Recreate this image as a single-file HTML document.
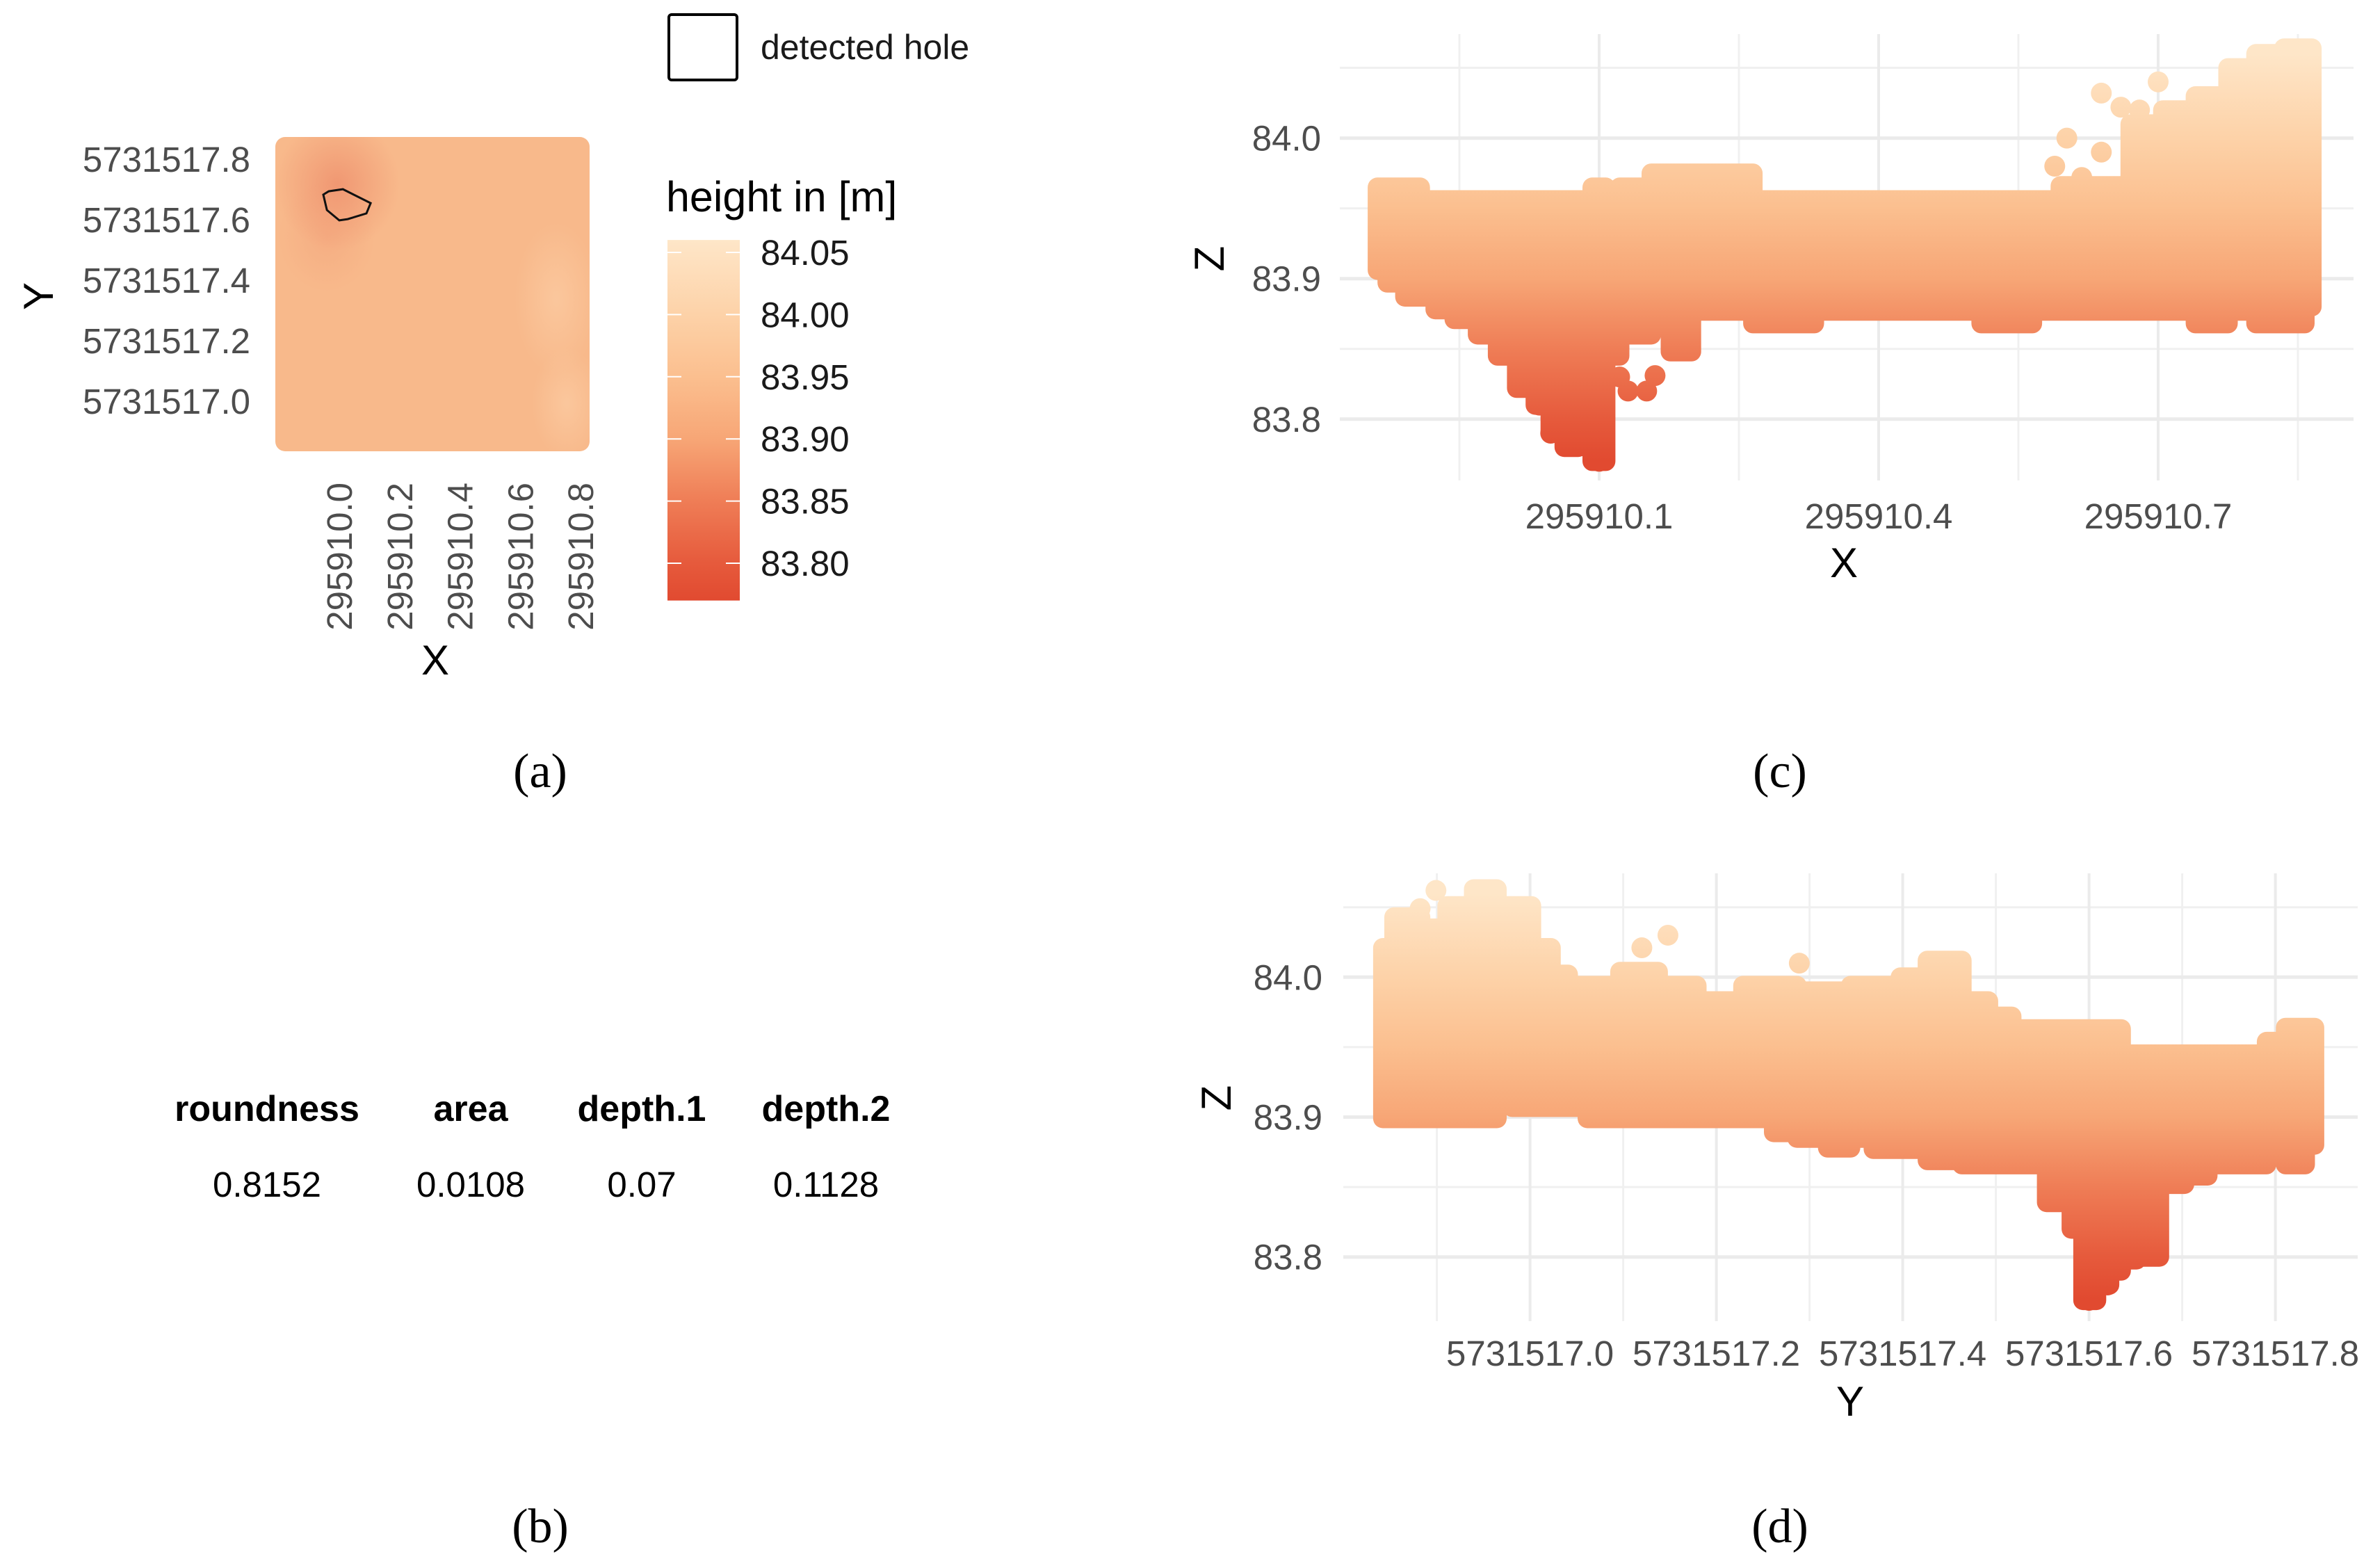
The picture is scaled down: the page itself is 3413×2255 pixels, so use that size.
<!DOCTYPE html>
<html><head><meta charset="utf-8">
<style>
html,body{margin:0;padding:0;background:#fff;}
svg{display:block;}
.tk{font-family:"Liberation Sans",Arial,sans-serif;font-size:51px;fill:#4d4d4d;}
.ti{font-family:"Liberation Sans",Arial,sans-serif;font-size:60px;fill:#000;}
.cap{font-family:"Liberation Serif",serif;font-size:70px;fill:#000;}
.th{font-family:"Liberation Sans",Arial,sans-serif;font-size:52px;font-weight:bold;fill:#000;}
.tv{font-family:"Liberation Sans",Arial,sans-serif;font-size:51px;fill:#000;}
</style></head>
<body>
<svg id="fig" width="3413" height="2255" viewBox="0 0 3413 2255" xmlns="http://www.w3.org/2000/svg">
<defs>
<radialGradient id="blob1" cx="0.5" cy="0.5" r="0.5"><stop offset="0" stop-color="#ee8f6c" stop-opacity="0.8"/><stop offset="1" stop-color="#ee8f6c" stop-opacity="0"/></radialGradient>
<radialGradient id="blob2" cx="0.5" cy="0.5" r="0.5"><stop offset="0" stop-color="#fcd0a8" stop-opacity="0.6"/><stop offset="1" stop-color="#fcd0a8" stop-opacity="0"/></radialGradient>
<clipPath id="tileClip"><rect x="396" y="197" width="452" height="452" rx="14"/></clipPath>
</defs>
<g id="panelA"></g>
<g id="panelC"></g>
<g id="panelD"></g>
<g>
 <text class="th" x="384" y="1612" text-anchor="middle">roundness</text>
 <text class="th" x="677" y="1612" text-anchor="middle">area</text>
 <text class="th" x="923" y="1612" text-anchor="middle">depth.1</text>
 <text class="th" x="1188" y="1612" text-anchor="middle">depth.2</text>
 <text class="tv" x="384" y="1721" text-anchor="middle">0.8152</text>
 <text class="tv" x="677" y="1721" text-anchor="middle">0.0108</text>
 <text class="tv" x="923" y="1721" text-anchor="middle">0.07</text>
 <text class="tv" x="1188" y="1721" text-anchor="middle">0.1128</text>
</g>
<text class="cap" x="777" y="1132" text-anchor="middle">(a)</text>
<text class="cap" x="777" y="2218" text-anchor="middle">(b)</text>
<text class="cap" x="2560" y="1132" text-anchor="middle">(c)</text>
<text class="cap" x="2560" y="2218" text-anchor="middle">(d)</text>
</svg>
<script>
// ---------- data ----------
// panel (a)
const aXTicks = [295910.0, 295910.2, 295910.4, 295910.6, 295910.8];
const aXTickLabels = ["295910.0","295910.2","295910.4","295910.6","295910.8"];
const aYTicks = [5731517.8, 5731517.6, 5731517.4, 5731517.2, 5731517.0];
const aYTickLabels = ["5731517.8","5731517.6","5731517.4","5731517.2","5731517.0"];
const holeX = [295909.947, 295909.965, 295910.012, 295910.104, 295910.090, 295910.028, 295910.0, 295909.959];
const holeY = [5731517.683, 5731517.694, 5731517.701, 5731517.655, 5731517.621, 5731517.602, 5731517.598, 5731517.632];
const legendTicks = [84.05, 84.00, 83.95, 83.90, 83.85, 83.80];
const legendTickLabels = ["84.05","84.00","83.95","83.90","83.85","83.80"];
// panel (c): X vs Z envelope columns
const cX = [295909.862,295909.883,295909.90,295909.916,295909.932,295909.957,295909.982,295910.0,295910.023,295910.040,295910.055,295910.07,295910.085,295910.10,295910.114,295910.13,295910.147,295910.165,295910.188,295910.21,295910.25,295910.28,295910.312,295910.35,295910.40,295910.45,295910.50,295910.52,295910.55,295910.58,295910.61,295910.65,295910.69,295910.72,295910.76,295910.79,295910.82,295910.85,295910.865];
const cTop = [83.965,83.965,83.965,83.956,83.956,83.956,83.956,83.956,83.956,83.956,83.956,83.956,83.956,83.965,83.956,83.965,83.965,83.975,83.975,83.975,83.975,83.956,83.956,83.956,83.956,83.956,83.956,83.956,83.956,83.956,83.966,83.966,84.01,84.02,84.03,84.05,84.06,84.064,84.064];
const cBot = [83.906,83.897,83.887,83.887,83.878,83.871,83.860,83.845,83.822,83.81,83.79,83.78,83.80,83.77,83.845,83.86,83.86,83.868,83.848,83.877,83.877,83.868,83.868,83.877,83.877,83.877,83.877,83.868,83.868,83.877,83.877,83.877,83.877,83.877,83.868,83.877,83.868,83.868,83.88];
const cPtX = [295910.589,295910.602,295910.618,295910.639,295910.639,295910.66,295910.68,295910.70,295910.709,295910.122,295910.131,295910.151,295910.16,295910.048,295910.069,295910.10,295910.036,295909.94];
const cPtZ = [83.98,84.0,83.972,84.032,83.99,84.022,84.02,84.04,84.012,83.83,83.82,83.82,83.831,83.79,83.782,83.77,83.81,83.878];
const cXTicks = [295910.1, 295910.4, 295910.7];
const cXTickLabels = ["295910.1","295910.4","295910.7"];
const cXMinor = [295909.95, 295910.25, 295910.55, 295910.85];
const cZTicks = [84.0, 83.9, 83.8];
const cZTickLabels = ["84.0","83.9","83.8"];
const cZMinor = [84.05, 83.95, 83.85];
// panel (d): Y vs Z envelope columns
const dY = [5731516.842,5731516.866,5731516.899,5731516.923,5731516.956,5731516.973,5731516.989,5731517.014,5731517.031,5731517.051,5731517.072,5731517.121,5731517.154,5731517.204,5731517.253,5731517.270,5731517.303,5731517.336,5731517.352,5731517.385,5731517.41,5731517.443,5731517.484,5731517.50,5731517.534,5731517.575,5731517.587,5731517.60,5731517.616,5731517.628,5731517.641,5731517.661,5731517.69,5731517.715,5731517.74,5731517.781,5731517.80,5731517.822,5731517.842];
const dTop = [84.021,84.043,84.035,84.051,84.063,84.051,84.051,84.021,84.002,83.994,83.994,84.004,83.994,83.983,83.994,83.994,83.99,83.99,83.994,83.994,84.0,84.012,83.983,83.972,83.963,83.963,83.963,83.963,83.963,83.963,83.945,83.945,83.945,83.945,83.945,83.945,83.954,83.964,83.964];
const dBot = [83.899,83.899,83.899,83.899,83.899,83.911,83.907,83.907,83.907,83.907,83.899,83.899,83.899,83.899,83.899,83.889,83.885,83.878,83.885,83.877,83.877,83.869,83.866,83.866,83.866,83.839,83.82,83.769,83.78,83.79,83.798,83.80,83.852,83.858,83.866,83.866,83.877,83.866,83.88];
const dPtY = [5731517.12,5731517.148,5731517.289,5731516.882,5731516.899,5731517.60,5731517.62];
const dPtZ = [84.021,84.03,84.01,84.049,84.062,83.769,83.78];
const dYTicks = [5731517.0,5731517.2,5731517.4,5731517.6,5731517.8];
const dYTickLabels = ["5731517.0","5731517.2","5731517.4","5731517.6","5731517.8"];
const dYMinor = [5731516.9,5731517.1,5731517.3,5731517.5,5731517.7];
const dZTicks = [84.0, 83.9, 83.8];
const dZTickLabels = ["84.0","83.9","83.8"];
const dZMinor = [84.05, 83.95, 83.85];

// ---------- helpers ----------
const NS = "http://www.w3.org/2000/svg";
function mk(tag, parent, attrs){ const e=document.createElementNS(NS,tag); for(const k in attrs) e.setAttribute(k,attrs[k]); parent.appendChild(e); return e; }
function lin(d0,d1,r0,r1){ return v => r0 + (v-d0)*(r1-r0)/(d1-d0); }
const colStops = [[83.77,"#e14a30"],[83.80,"#e65a3c"],[83.85,"#ef7d56"],[83.90,"#f7a676"],[83.95,"#fbbf8f"],[84.00,"#fdd2a8"],[84.06,"#fee6c8"]];
function addZGradient(id, zs){
  const defs=document.querySelector("defs");
  const g=mk("linearGradient",defs,{id:id,gradientUnits:"userSpaceOnUse",x1:0,x2:0,y1:zs(84.06),y2:zs(83.77)});
  colStops.slice().reverse().forEach(s=>{ mk("stop",g,{offset:((zs(s[0])-zs(84.06))/(zs(83.77)-zs(84.06))).toFixed(4),"stop-color":s[1]}); });
}

// ---------- panel (a) ----------
(function(){
  const g=document.getElementById("panelA");
  const xs=lin(295910.0,295910.8,488,835);
  const ys=lin(5731517.8,5731517.0,229,577);
  const tile=mk("rect",g,{x:396,y:197,width:452,height:452,rx:14,fill:"#f8b98b"});
  
  
  const bl=mk("g",g,{"clip-path":"url(#tileClip)"});
  mk("ellipse",bl,{cx:485,cy:265,rx:90,ry:95,fill:"url(#blob1)"});
  mk("ellipse",bl,{cx:470,cy:340,rx:70,ry:80,fill:"url(#blob1)",opacity:0.35});
  mk("ellipse",bl,{cx:800,cy:430,rx:60,ry:110,fill:"url(#blob2)"});
  mk("ellipse",bl,{cx:815,cy:580,rx:50,ry:80,fill:"url(#blob2)"});
  const pts=holeX.map((x,i)=>xs(x).toFixed(1)+","+ys(holeY[i]).toFixed(1)).join(" ");
  const hole=mk("polygon",g,{points:pts,fill:"none",stroke:"#111",'stroke-width':3});
  
  
  aYTicks.forEach((v,i)=>{
    const t=mk("text",g,{x:360,y:ys(v)+18,"text-anchor":"end",class:"tk"}); t.textContent=aYTickLabels[i];
    
    
  });
  aXTicks.forEach((v,i)=>{
    const x=xs(v)+18;
    const t=mk("text",g,{x:x,y:694,"text-anchor":"end",class:"tk",transform:`rotate(-90 ${x} 694)`}); t.textContent=aXTickLabels[i];
    
    
  });
  const xt=mk("text",g,{x:626,y:970,"text-anchor":"middle",class:"ti"}); xt.textContent="X";
  
  
  const yt=mk("text",g,{x:76,y:426,"text-anchor":"middle",class:"ti",transform:"rotate(-90 76 426)"}); yt.textContent="Y";
  
  
  const lb=mk("rect",g,{x:962,y:21,width:98,height:94,rx:4,fill:"none",stroke:"#000","stroke-width":4});
  
  
  const lt=mk("text",g,{x:1094,y:85,class:"tk",style:"fill:#1a1a1a;font-size:50px"}); lt.textContent="detected hole";
  
  
  const ht=mk("text",g,{x:958,y:304,class:"ti",style:"font-size:61px"}); ht.textContent="height in [m]";
  
  
  const ls=lin(84.05,83.80,363,810);
  addZGradient("legGrad", ls);
  const bar=mk("rect",g,{x:960,y:ls(84.06),width:104,height:ls(83.77)-ls(84.06),fill:"url(#legGrad)"});
  
  
  legendTicks.forEach((v,i)=>{
    mk("line",g,{x1:960,x2:980,y1:ls(v),y2:ls(v),stroke:"#fff","stroke-width":2});
    mk("line",g,{x1:1044,x2:1064,y1:ls(v),y2:ls(v),stroke:"#fff","stroke-width":2});
    const t=mk("text",g,{x:1094,y:ls(v)+18,class:"tk",style:"fill:#1a1a1a"}); t.textContent=legendTickLabels[i];
    
    
  });
})();

// ---------- scatter panel builder ----------
function scatterPanel(gid, gradId, xs, zs, cols, tops, bots, px, pz, xt, xtl, xminor, zt, ztl, zminor, box, lab){
  const g=document.getElementById(gid);
  const grid=mk("g",g,{});
  
  
  zminor.forEach(v=>mk("line",grid,{x1:box.x0,x2:box.x1,y1:zs(v),y2:zs(v),stroke:"#f0f0f0","stroke-width":3}));
  xminor.forEach(v=>mk("line",grid,{x1:xs(v),x2:xs(v),y1:box.y0,y2:box.y1,stroke:"#f0f0f0","stroke-width":3}));
  zt.forEach(v=>mk("line",grid,{x1:box.x0,x2:box.x1,y1:zs(v),y2:zs(v),stroke:"#ebebeb","stroke-width":5}));
  xt.forEach(v=>mk("line",grid,{x1:xs(v),x2:xs(v),y1:box.y0,y2:box.y1,stroke:"#ebebeb","stroke-width":4}));
  addZGradient(gradId, zs);
  let top=[], bot=[];
  for(let i=0;i<cols.length;i++){
    const xa=xs(i===0?cols[0]:(cols[i-1]+cols[i])/2), xb=xs(i===cols.length-1?cols[i]:(cols[i]+cols[i+1])/2);
    top.push([xa,zs(tops[i])],[xb,zs(tops[i])]);
    bot.push([xa,zs(bots[i])],[xb,zs(bots[i])]);
  }
  const poly=top.concat(bot.reverse()).map(p=>p[0].toFixed(1)+","+p[1].toFixed(1)).join(" ");
  const env=mk("polygon",g,{points:poly,fill:"url(#"+gradId+")",stroke:"url(#"+gradId+")","stroke-width":28,"stroke-linejoin":"round"});
  
  
  px.forEach((x,i)=>{
    const c=mk("circle",g,{cx:xs(x),cy:zs(pz[i]),r:15,fill:"url(#"+gradId+")"});
    
    
  });
  zt.forEach((v,i)=>{
    const t=mk("text",g,{x:box.lx,y:zs(v)+18,"text-anchor":"end",class:"tk"}); t.textContent=ztl[i];
    
    
  });
  xt.forEach((v,i)=>{
    const t=mk("text",g,{x:xs(v),y:box.ty,"text-anchor":"middle",class:"tk"}); t.textContent=xtl[i];
    
    
  });
}

const cXs=lin(295910.1,295910.4,2300,2702);
const cZs=lin(84.0,83.8,198.6,602.8);
scatterPanel("panelC","cGrad",cXs,cZs,cX,cTop,cBot,cPtX,cPtZ,cXTicks,cXTickLabels,cXMinor,cZTicks,cZTickLabels,cZMinor,
  {x0:1927,x1:3385,y0:49,y1:691,lx:1900,ty:760},"c");
(function(){
  const g=document.getElementById("panelC");
  const t=mk("text",g,{x:2652,y:830,"text-anchor":"middle",class:"ti"}); t.textContent="X";
  
  
  const z=mk("text",g,{x:1760,y:372,"text-anchor":"middle",class:"ti",transform:"rotate(-90 1760 372)"}); z.textContent="Z";
  
  
})();

const dXs=lin(5731517.0,5731517.2,2200.6,2468.6);
const dZs=lin(84.0,83.8,1405.3,1807.7);
scatterPanel("panelD","dGrad",dXs,dZs,dY,dTop,dBot,dPtY,dPtZ,dYTicks,dYTickLabels,dYMinor,dZTicks,dZTickLabels,dZMinor,
  {x0:1932,x1:3391,y0:1256,y1:1900,lx:1902,ty:1964},"d");
(function(){
  const g=document.getElementById("panelD");
  const t=mk("text",g,{x:2661,y:2036,"text-anchor":"middle",class:"ti"}); t.textContent="Y";
  
  
  const z=mk("text",g,{x:1770,y:1579,"text-anchor":"middle",class:"ti",transform:"rotate(-90 1770 1579)"}); z.textContent="Z";
  
  
})();
</script>
</body></html>
